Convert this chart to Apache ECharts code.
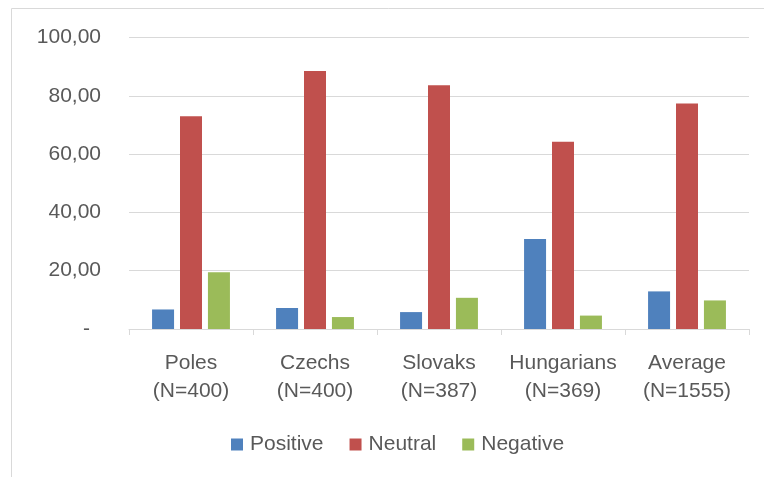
<!DOCTYPE html>
<html>
<head>
<meta charset="utf-8">
<script src="https://cdn.jsdelivr.net/npm/echarts@6/dist/echarts.min.js"></script>
<style>
  html, body { margin: 0; padding: 0; background: #fff; }
  #chart { width: 764px; height: 477px; }
</style>
</head>
<body>
<div id="chart"></div>
<script>
// groups and sample sizes
var groups = ['Poles', 'Czechs', 'Slovaks', 'Hungarians', 'Average'];
var sampleN = [400, 400, 387, 369, 1555];

// shares in %
var positive = [6.7, 7.2, 5.8, 30.9, 12.9];
var neutral = [73.0, 88.5, 83.6, 64.2, 77.4];
var negative = [19.5, 4.1, 10.7, 4.6, 9.8];

var yTicks = [0, 20, 40, 60, 80, 100];

var font = "'Liberation Sans', Arial, sans-serif";
var grey = '#595959';

var myChart = echarts.init(document.getElementById('chart'));

var categories = groups.map(function (g, i) {
  return g + '\n(N=' + sampleN[i] + ')';
});

function barSeries(name, data, color) {
  return {
    name: name,
    type: 'bar',
    data: data,
    barWidth: 22,
    barGap: '27%',
    itemStyle: { color: color }
  };
}

var options = {
  animation: false,
  textStyle: { fontFamily: font },
  graphic: [{
    type: 'rect',
    shape: { x: 11.5, y: 8.5, width: 800, height: 500 },
    style: { fill: 'none', stroke: '#d9d9d9', lineWidth: 1 },
    silent: true
  }],
  grid: { left: 129, right: 15, top: 37.5, bottom: 148 },
  legend: {
    left: 226,
    top: 429,
    itemWidth: 12,
    itemHeight: 12,
    itemGap: 26,
    icon: 'rect',
    textStyle: { color: grey, fontSize: 21, fontFamily: font, padding: [0, 0, 0, 2] },
    data: ['Positive', 'Neutral', 'Negative']
  },
  xAxis: {
    type: 'category',
    data: categories,
    axisLine: { lineStyle: { color: '#d9d9d9', width: 1 } },
    axisTick: { show: true, length: 6, lineStyle: { color: '#d9d9d9' } },
    axisLabel: {
      color: grey,
      fontSize: 21,
      fontFamily: font,
      lineHeight: 28,
      margin: 20,
      interval: 0
    }
  },
  yAxis: {
    type: 'value',
    min: yTicks[0],
    max: yTicks[yTicks.length - 1],
    interval: 20,
    axisLine: { show: false },
    axisTick: { show: false },
    splitLine: { lineStyle: { color: '#d9d9d9', width: 1 } },
    axisLabel: {
      color: grey,
      fontSize: 21,
      fontFamily: font,
      margin: 28,
      formatter: function (v) {
        if (v === 0) return '{d|-}';
        return v.toFixed(2).replace('.', ',');
      },
      rich: {
        d: { color: grey, fontSize: 21, fontFamily: font, padding: [0, 11, 0, 0] }
      }
    }
  },
  series: [
    barSeries('Positive', positive, '#4f81bd'),
    barSeries('Neutral', neutral, '#c0504d'),
    barSeries('Negative', negative, '#9bbb59')
  ]
};

myChart.setOption(options);
</script>
</body>
</html>
